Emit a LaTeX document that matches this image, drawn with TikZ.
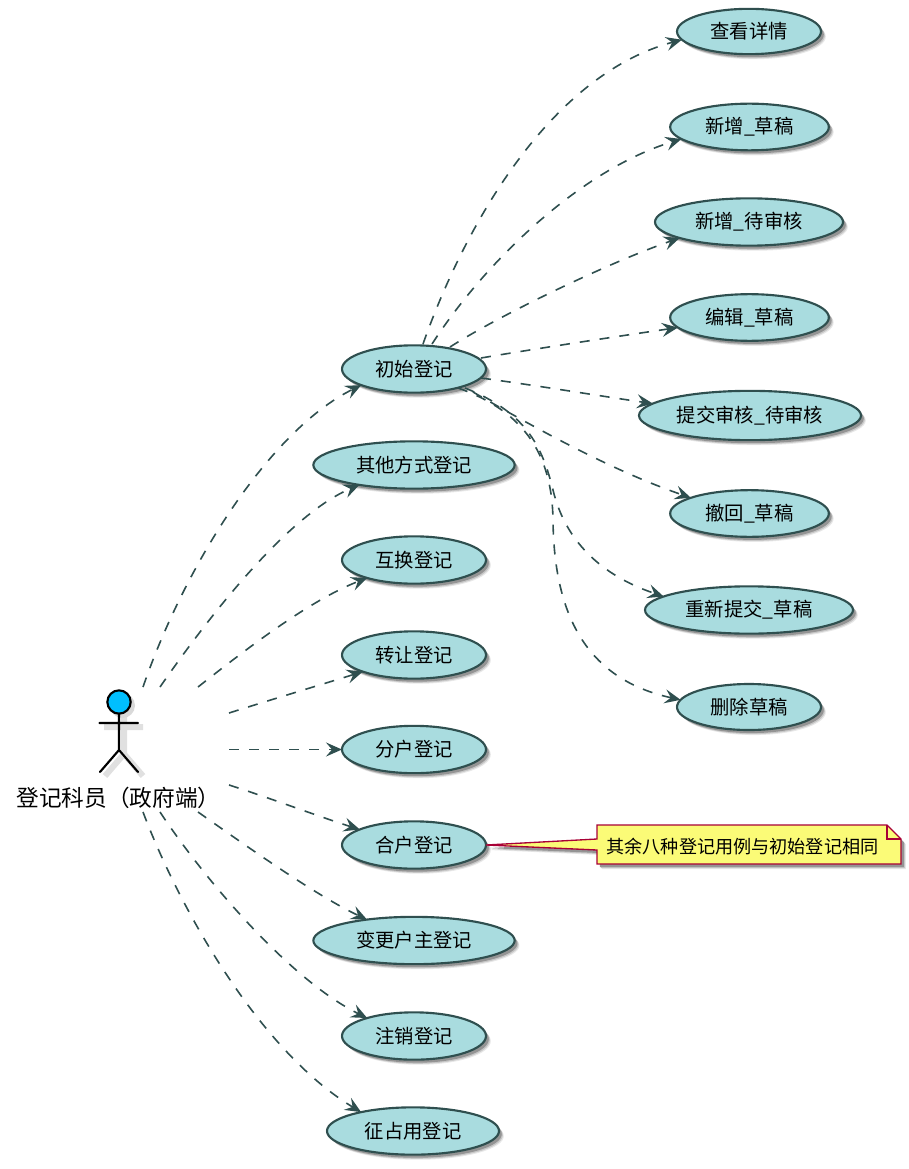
\documentclass[tikz,border=0pt]{standalone}
\usepackage{fontspec}
\setmainfont{Noto Sans CJK SC}
\usetikzlibrary{shapes.geometric,arrows.meta,shadows}
\definecolor{ucfill}{HTML}{A9DCDF}
\definecolor{ucline}{HTML}{2F4F4F}
\definecolor{notefill}{HTML}{FBFB77}
\definecolor{noteline}{HTML}{A80036}
\definecolor{actorfill}{HTML}{00BFFF}
\tikzset{
  softshadow/.style={general shadow={shadow xshift=3.6pt,shadow yshift=-3.8pt,fill=black!9},
                     general shadow={shadow xshift=2.9pt,shadow yshift=-3.1pt,fill=black!22},
                     general shadow={shadow xshift=2.1pt,shadow yshift=-2.3pt,fill=black!42}},
  uc/.style={ellipse,draw=ucline,fill=ucfill,line width=1.6pt,inner sep=0pt,outer sep=0pt,
             font=\fontsize{14.5pt}{16pt}\selectfont,softshadow},
  link/.style={draw=ucline,line width=1.2pt,dash pattern=on 7.5pt off 7.5pt,
               -{Stealth[length=12pt,width=10.5pt,inset=4.5pt,sep=0pt]}},
  limb/.style={line width=1.6pt,line cap=round},
  limbshadow/.style={line width=4.5pt,draw=black!12},
  noteshape/.style={draw=noteline,fill=notefill,line width=1pt,line join=miter},
}
\begin{document}
\begin{tikzpicture}[x=0.75pt,y=-0.75pt]
\useasboundingbox (0,0) rectangle (908,1169);
% right column
\node[uc,minimum width=108pt,minimum height=34pt] (r1) at (749,31.5) {查看详情};
\node[uc,minimum width=119pt,minimum height=35pt] (r2) at (749.5,127) {新增\_草稿};
\node[uc,minimum width=141pt,minimum height=35.5pt] (r3) at (749,222) {新增\_待审核};
\node[uc,minimum width=119pt,minimum height=35pt] (r4) at (749.5,317.5) {编辑\_草稿};
\node[uc,minimum width=166.5pt,minimum height=37pt] (r5) at (750,415.5) {提交审核\_待审核};
\node[uc,minimum width=119pt,minimum height=35pt] (r6) at (749.5,513.5) {撤回\_草稿};
\node[uc,minimum width=156pt,minimum height=35.5pt] (r7) at (749,610) {重新提交\_草稿};
\node[uc,minimum width=108pt,minimum height=34.5pt] (r8) at (749,707) {删除草稿};
% middle column
\node[uc,minimum width=108pt,minimum height=35.5pt] (m1) at (414,369) {初始登记};
\node[uc,minimum width=151pt,minimum height=35.5pt] (m2) at (414,465) {其他方式登记};
\node[uc,minimum width=108pt,minimum height=35.5pt] (m3) at (414,560) {互换登记};
\node[uc,minimum width=108pt,minimum height=35.5pt] (m4) at (414,655) {转让登记};
\node[uc,minimum width=108pt,minimum height=35.5pt] (m5) at (414,749.5) {分户登记};
\node[uc,minimum width=108pt,minimum height=35.5pt] (m6) at (414,845) {合户登记};
\node[uc,minimum width=151pt,minimum height=35.5pt] (m7) at (414,940.5) {变更户主登记};
\node[uc,minimum width=108pt,minimum height=35.5pt] (m8) at (414,1036) {注销登记};
\node[uc,minimum width=129pt,minimum height=35.5pt] (m9) at (413,1131) {征占用登记};
% actor
\draw[limbshadow] (124,715) -- (124,754) (104,727) -- (143,727) (124,754) -- (105,776) (124,754) -- (143,776);
\fill[black!15] (122.5,705.5) circle[radius=12.5];
\node[circle,draw=black,fill=actorfill,line width=1.6pt,minimum size=17.5pt,inner sep=0pt,outer sep=0pt] (head) at (119,702) {};
\coordinate (crotch) at (119,750);
\coordinate (armL) at (99.5,723);
\coordinate (armR) at (138,723);
\coordinate (legL) at (100,772);
\coordinate (legR) at (138,772);
\draw[limb] (head.south) -- (crotch) (armL) -- (armR) (legL) -- (crotch) -- (legR);
\node[font=\fontsize{17pt}{19pt}\selectfont,inner sep=0pt] (actor) at (118.5,798) {登记科员（政府端）};
% actor side free ends
\coordinate (s1) at (143,687);
\coordinate (s2) at (160,687);
\coordinate (s3) at (198,687);
\coordinate (s4) at (229,713);
\coordinate (s5) at (229,749.5);
\coordinate (s6) at (229,785);
\coordinate (s7) at (198,812);
\coordinate (s8) at (160,812);
\coordinate (s9) at (143,812);
% actor to use cases
\draw[link] (s1) .. controls (185,565) and (270,430) .. (m1.197.4);
\draw[link] (s2) .. controls (210,615) and (288,515) .. (m2.200);
\draw[link] (s3) .. controls (245,650) and (310,600) .. (m3.201);
\draw[link] (s4) .. controls (270,700) and (320,685) .. (m4.198);
\draw[link] (s5) -- (m5.180);
\draw[link] (s6) .. controls (270,798) and (320,817) .. (m6.164.5);
\draw[link] (s7) .. controls (245,845) and (315,895) .. (m7.156);
\draw[link] (s8) .. controls (205,880) and (290,980) .. (m8.159);
\draw[link] (s9) .. controls (178,905) and (258,1050) .. (m9.160);
% initial registration to its use cases
\coordinate (t1) at (423,344);
\coordinate (t2) at (432,344);
\coordinate (t3) at (450,347);
\coordinate (t4) at (481,358);
\coordinate (t5) at (481,378);
\coordinate (t6) at (473,392);
\coordinate (t7) at (465,388);
\coordinate (t8) at (458,388);
\coordinate (b7) at (553,490);
\coordinate (b8) at (553,520);
\draw[link] (t1) .. controls (465,225) and (550,75) .. (r1.187);
\draw[link] (t2) .. controls (485,262) and (580,170) .. (r2.190);
\draw[link] (t3) .. controls (500,315) and (610,262) .. (r3.193.6);
\draw[link] (t4) .. controls (540,348) and (620,336) .. (r4.188);
\draw[link] (t5) .. controls (540,386) and (600,396) .. (r5.173);
\draw[link] (t6) .. controls (530,425) and (610,470) .. (r6.165);
\draw[link] (t7) .. controls (525,412) and (542,445) .. (b7) .. controls (565,540) and (600,575) .. (r7.171);
\draw[link] (t8) .. controls (520,410) and (552,450) .. (b8) .. controls (554,620) and (590,680) .. (r8.174);
% note
\coordinate (nA) at (597,825);
\coordinate (nB) at (887,825);
\coordinate (nC) at (901,839);
\coordinate (nD) at (901,864);
\coordinate (nE) at (597,864);
\coordinate (nF) at (597,850);
\coordinate (nG) at (597,839);
\coordinate (nH) at (887,839);
\draw[noteshape,softshadow] (nA) -- (nB) -- (nC) -- (nD) -- (nE) -- (nF) -- (m6.east) -- (nG) -- cycle;
\draw[noteshape,fill=none] (nB) -- (nH) -- (nC);
\node[font=\fontsize{13.6pt}{15pt}\selectfont,inner sep=0pt] (note) at (742.5,847) {其余八种登记用例与初始登记相同};
\end{tikzpicture}
\end{document}
